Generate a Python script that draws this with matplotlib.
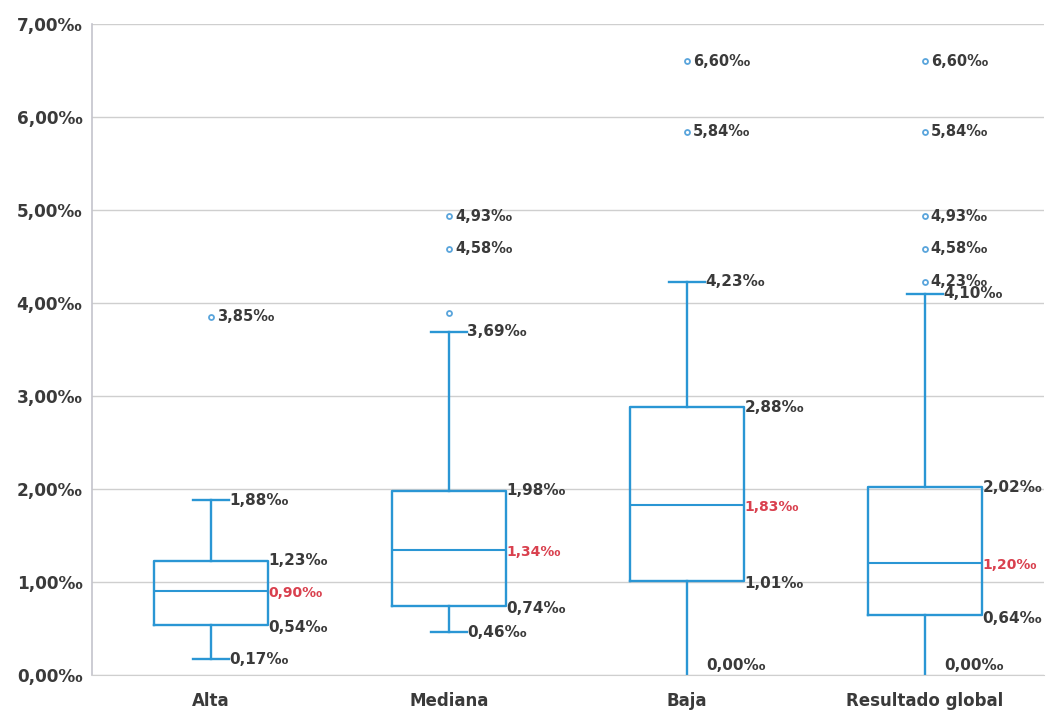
import matplotlib
matplotlib.use("Agg")
import matplotlib.pyplot as plt

# Distribution summaries per group (values in per mille)
categories = ["Alta", "Mediana", "Baja", "Resultado global"]
whisker_low = [0.17, 0.46, 0.00, 0.00]
q1 = [0.54, 0.74, 1.01, 0.64]
median = [0.90, 1.34, 1.83, 1.20]
q3 = [1.23, 1.98, 2.88, 2.02]
whisker_high = [1.88, 3.69, 4.23, 4.10]
outliers = [
    [3.85],
    [3.89, 4.58, 4.93],
    [5.84, 6.60],
    [4.23, 4.58, 4.93, 5.84, 6.60],
]
outlier_labeled = [
    [True],
    [False, True, True],
    [True, True],
    [True, True, True, True, True],
]
y_ticks = [0, 1, 2, 3, 4, 5, 6, 7]

BOX_COLOR = "#2a96d4"
FLIER_COLOR = "#5aa5dc"
TEXT_COLOR = "#3a3a3a"
MEDIAN_TEXT = "#d9404e"
GRID_COLOR = "#cfcfcf"


def fmt(v):
    return f"{v:.2f}".replace(".", ",") + "\u2030"


fig = plt.figure(figsize=(10.47, 7.14), dpi=100)
ax = fig.add_axes([0.088, 0.0546, 0.909, 0.912])

stats = []
for i, name in enumerate(categories):
    stats.append(dict(label=name, whislo=whisker_low[i], q1=q1[i], med=median[i],
                      q3=q3[i], whishi=whisker_high[i], fliers=outliers[i]))

positions = list(range(len(categories)))
box_width = 0.48
cap_width = 0.15
parts = ax.bxp(stats, positions=positions, widths=box_width, capwidths=cap_width,
               showfliers=True, patch_artist=False,
               boxprops=dict(color=BOX_COLOR, linewidth=1.7),
               whiskerprops=dict(color=BOX_COLOR, linewidth=1.7),
               capprops=dict(color=BOX_COLOR, linewidth=1.7),
               medianprops=dict(color=BOX_COLOR, linewidth=1.5),
               flierprops=dict(marker="o", markersize=3.6, markerfacecolor="white",
                               markeredgecolor=FLIER_COLOR, markeredgewidth=1.3))

# caps sitting on the zero baseline are hidden by the axis line
for i, v in enumerate(whisker_low):
    if v <= 0:
        parts["caps"][2 * i].set_visible(False)

label_kw = dict(fontsize=11, fontweight="bold", va="center", ha="left")
for i, x in enumerate(positions):
    box_right = x + box_width / 2
    cap_right = x + cap_width / 2
    # quartiles and median at the right edge of the box
    ax.text(box_right + 0.002, q3[i], fmt(q3[i]), color=TEXT_COLOR, **label_kw)
    ax.text(box_right + 0.002, median[i] - 0.02, fmt(median[i]), color=MEDIAN_TEXT,
            fontsize=10, fontweight="bold", va="center", ha="left")
    ax.text(box_right + 0.002, q1[i] - 0.03, fmt(q1[i]), color=TEXT_COLOR, **label_kw)
    # whisker ends at the right of the caps
    ax.text(cap_right + 0.002, whisker_high[i], fmt(whisker_high[i]),
            color=TEXT_COLOR, **label_kw)
    if whisker_low[i] <= 0:
        ax.text(cap_right + 0.005, whisker_low[i] + 0.02, fmt(whisker_low[i]),
                color=TEXT_COLOR, fontsize=11, fontweight="bold",
                va="bottom", ha="left")
    else:
        ax.text(cap_right + 0.002, whisker_low[i], fmt(whisker_low[i]),
                color=TEXT_COLOR, **label_kw)
    # outlier values next to their markers
    for v, show in zip(outliers[i], outlier_labeled[i]):
        if show:
            ax.text(x + 0.025, v, fmt(v), color=TEXT_COLOR, fontsize=10.5,
                    fontweight="bold", va="center", ha="left")

ax.set_xlim(-0.5, len(categories) - 0.5)
ax.set_ylim(0, 7)
ax.set_yticks(y_ticks)
ax.set_yticklabels([fmt(t) for t in y_ticks], fontsize=12.2, fontweight="bold",
                   color=TEXT_COLOR)
ax.set_xticks(positions)
ax.set_xticklabels(categories, fontsize=12, fontweight="bold", color=TEXT_COLOR)
ax.tick_params(axis="both", length=0)
ax.tick_params(axis="y", pad=7)
ax.tick_params(axis="x", pad=12)

ax.grid(axis="y", color=GRID_COLOR, linewidth=1.0)
ax.set_axisbelow(True)
for side in ("top", "right"):
    ax.spines[side].set_visible(False)
ax.spines["left"].set_color("#c4c4cc")
ax.spines["bottom"].set_color(GRID_COLOR)
ax.spines["left"].set_linewidth(1.2)

fig.savefig("out.png", dpi=100, facecolor="white")
